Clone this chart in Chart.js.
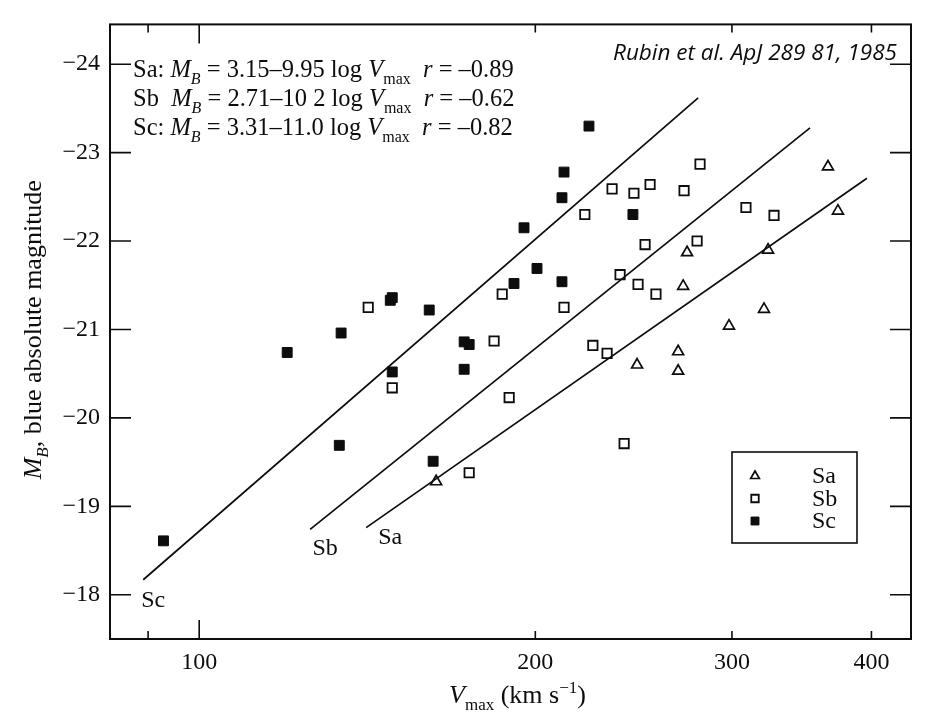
<!DOCTYPE html>
<html lang="en">
<head>
<meta charset="UTF-8" />
<title>Rubin et al. 1985 - M_B vs V_max</title>
<script src="https://cdn.jsdelivr.net/npm/chart.js"></script>
<style>
  html, body { margin: 0; padding: 0; background: #fff; }
</style>
</head>
<body>
<canvas id="tfChart" width="928" height="716"></canvas>
<script>
// values (Rubin et al. ApJ 289, 81)
const saVmax = [163.0, 246.7, 268.5, 268.5, 271.3, 273.5, 298.2, 320.5, 323.2, 365.7, 373.3];
const saMag  = [-19.28, -20.60, -20.75, -20.53, -21.49, -21.87, -21.04, -21.23, -21.90, -22.84, -22.34];

const sbVmax = [141.7, 148.9, 174.5, 183.7, 186.8, 189.5, 212.2, 221.5, 234.3, 225.2, 231.9, 238.2,
                240.2, 245.1, 247.2, 250.8, 253.4, 256.5, 271.8, 279.2, 280.9, 308.8, 327.2];
const sbMag  = [-21.25, -20.34, -19.38, -20.87, -21.40, -20.23, -21.25, -22.30, -22.59, -20.82, -20.73, -21.62,
                -19.71, -22.54, -21.51, -21.96, -22.64, -21.40, -22.57, -22.00, -22.87, -22.38, -22.29];

const scVmax = [92.9, 119.9, 134.0, 133.5, 148.3, 148.9, 148.9, 160.7, 162.0, 172.7, 174.5, 172.7,
                191.4, 195.4, 200.7, 211.3, 211.3, 212.2, 223.4, 244.6];
const scMag  = [-18.61, -20.74, -20.96, -19.69, -21.33, -21.36, -20.52, -21.22, -19.51, -20.86, -20.83, -20.55,
                -21.52, -22.15, -21.69, -21.54, -22.49, -22.78, -23.30, -22.30];

// fitted lines, end points as drawn
const saFitVmax = [141.1, 396.3];
const saFitMag  = [-18.76, -22.71];
const sbFitVmax = [125.7, 352.4];
const sbFitMag  = [-18.74, -23.28];
const scFitVmax = [89.1, 279.8];
const scFitMag  = [-18.17, -23.62];

const xTickValues = [100, 200, 300, 400];
const xMinorTickValues = [90];
const yTickValues = [-24, -23, -22, -21, -20, -19, -18];

const fitLines = [
  ['Sa: ', 'n'], ['M', 'i'], ['B', 'subi'], [' = 3.15\u20139.95 log ', 'n'], ['V', 'i'], ['max', 'sub'], ['  ', 'n'], ['r', 'i'], [' = \u20130.89', 'n']
];
const fitLines2 = [
  ['Sb  ', 'n'], ['M', 'i'], ['B', 'subi'], [' = 2.71\u201310 2 log ', 'n'], ['V', 'i'], ['max', 'sub'], ['  ', 'n'], ['r', 'i'], [' = \u20130.62', 'n']
];
const fitLines3 = [
  ['Sc: ', 'n'], ['M', 'i'], ['B', 'subi'], [' = 3.31\u201311.0 log ', 'n'], ['V', 'i'], ['max', 'sub'], ['  ', 'n'], ['r', 'i'], [' = \u20130.82', 'n']
];

const ink = '#0d0d0d';
const serif = '"Liberation Serif", "Times New Roman", serif';

function pts(xs, ys) {
  return xs.map((v, i) => ({ x: v, y: ys[i] }));
}

function fontFor(kind, size) {
  const small = Math.round(size * 0.66);
  if (kind === 'i') return 'italic ' + size + 'px ' + serif;
  if (kind === 'subi') return 'italic ' + small + 'px ' + serif;
  if (kind === 'sub' || kind === 'sup') return small + 'px ' + serif;
  return size + 'px ' + serif;
}

function drawRich(ctx, parts, x, y, size, align) {
  let w = 0;
  parts.forEach(p => { ctx.font = fontFor(p[1], size); w += ctx.measureText(p[0]).width; });
  let cx = align === 'center' ? x - w / 2 : x;
  ctx.textAlign = 'left';
  ctx.textBaseline = 'alphabetic';
  parts.forEach(p => {
    ctx.font = fontFor(p[1], size);
    let dy = 0;
    if (p[1] === 'sub' || p[1] === 'subi') dy = size * 0.28;
    if (p[1] === 'sup') dy = -size * 0.4;
    ctx.fillText(p[0], cx, y + dy);
    cx += ctx.measureText(p[0]).width;
  });
}

const decorations = {
  id: 'decorations',
  afterDraw(chart) {
    const { ctx, chartArea: a, scales: { x, y } } = chart;
    ctx.save();
    ctx.strokeStyle = ink;
    ctx.fillStyle = ink;

    // frame
    ctx.lineWidth = 2;
    ctx.strokeRect(a.left, a.top, a.right - a.left, a.bottom - a.top);

    // ticks pointing inward, on all four sides
    ctx.lineWidth = 1.6;
    ctx.beginPath();
    xTickValues.concat(xMinorTickValues).forEach(v => {
      const px = x.getPixelForValue(v);
      const len = v === 100 ? 19 : 8;
      ctx.moveTo(px, a.bottom); ctx.lineTo(px, a.bottom - len);
      ctx.moveTo(px, a.top); ctx.lineTo(px, a.top + len);
    });
    yTickValues.forEach(v => {
      const py = y.getPixelForValue(v);
      ctx.moveTo(a.left, py); ctx.lineTo(a.left + 21, py);
      ctx.moveTo(a.right, py); ctx.lineTo(a.right - 21, py);
    });
    ctx.stroke();

    // equations, top left
    drawRich(ctx, fitLines, a.left + 23, 77, 24.5, 'left');
    drawRich(ctx, fitLines2, a.left + 23, 106, 24.5, 'left');
    drawRich(ctx, fitLines3, a.left + 23, 135, 24.5, 'left');

    // source note
    ctx.font = 'italic 22.5px "Open Sans", Lato, sans-serif';
    ctx.textAlign = 'right';
    ctx.textBaseline = 'alphabetic';
    ctx.fillText('Rubin et al. ApJ 289 81, 1985', a.right - 14, 60);

    // names at the low end of each fitted line
    const offsets = { Sa: [24, 16], Sb: [15, 26], Sc: [10, 27] };
    chart.data.datasets.forEach((ds, i) => {
      if (!ds.fitOf) return;
      const p0 = chart.getDatasetMeta(i).data[0];
      const off = offsets[ds.fitOf];
      ctx.font = '24px ' + serif;
      ctx.textAlign = 'center';
      ctx.fillText(ds.fitOf, p0.x + off[0], p0.y + off[1]);
    });

    // legend box
    const box = { left: a.right - 179, top: a.bottom - 187, w: 125, h: 91 };
    ctx.lineWidth = 1.6;
    ctx.strokeRect(box.left, box.top, box.w, box.h);
    const marks = chart.data.datasets.filter(ds => !ds.fitOf);
    marks.forEach((ds, k) => {
      const cy = box.top + 24 + k * 22.5;
      ctx.save();
      ctx.strokeStyle = ds.borderColor;
      ctx.fillStyle = ds.backgroundColor;
      ctx.lineWidth = ds.borderWidth;
      Chart.helpers.drawPoint(ctx, {
        pointStyle: ds.pointStyle,
        radius: ds.pointRadius * 0.8,
        borderWidth: ds.borderWidth,
        rotation: 0
      }, box.left + 23, cy);
      ctx.restore();
      ctx.font = '24px ' + serif;
      ctx.textAlign = 'left';
      ctx.textBaseline = 'middle';
      ctx.fillStyle = ink;
      ctx.fillText(ds.label, box.left + 80, cy + 1);
    });

    // axis titles
    ctx.textBaseline = 'alphabetic';
    drawRich(ctx, [['V', 'i'], ['max', 'sub'], [' (km s', 'n'], ['\u22121', 'sup'], [')', 'n']],
      (a.left + a.right) / 2 + 7, 703, 26, 'center');
    ctx.save();
    ctx.translate(41, (a.top + a.bottom) / 2 - 2);
    ctx.rotate(-Math.PI / 2);
    drawRich(ctx, [['M', 'i'], ['B', 'subi'], [', blue absolute magnitude', 'n']], 0, 0, 26, 'center');
    ctx.restore();

    ctx.restore();
  }
};

const lineStyle = {
  showLine: true,
  borderColor: ink,
  borderWidth: 1.7,
  pointRadius: 0,
  fill: false
};

new Chart(document.getElementById('tfChart'), {
  type: 'scatter',
  data: {
    datasets: [
      { label: 'Sa', data: pts(saVmax, saMag), pointStyle: 'triangle', pointRadius: 6.3,
        backgroundColor: 'rgba(255,255,255,0)', borderColor: ink, borderWidth: 1.7 },
      { label: 'Sb', data: pts(sbVmax, sbMag), pointStyle: 'rect', pointRadius: 6.6,
        backgroundColor: 'rgba(255,255,255,0)', borderColor: ink, borderWidth: 1.8 },
      { label: 'Sc', data: pts(scVmax, scMag), pointStyle: 'rect', pointRadius: 7,
        backgroundColor: ink, borderColor: ink, borderWidth: 1 },
      Object.assign({ label: 'Sa fit', fitOf: 'Sa', data: pts(saFitVmax, saFitMag) }, lineStyle),
      Object.assign({ label: 'Sb fit', fitOf: 'Sb', data: pts(sbFitVmax, sbFitMag) }, lineStyle),
      Object.assign({ label: 'Sc fit', fitOf: 'Sc', data: pts(scFitVmax, scFitMag) }, lineStyle)
    ]
  },
  options: {
    responsive: false,
    animation: false,
    devicePixelRatio: 1,
    layout: { padding: { top: 10, right: 17, left: 0, bottom: 0 } },
    plugins: {
      legend: { display: false },
      tooltip: { enabled: false }
    },
    scales: {
      x: {
        type: 'logarithmic',
        min: 83.2,
        max: 434,
        grid: { display: false, drawTicks: false },
        border: { display: false },
        afterBuildTicks: s => {
          s.ticks = xMinorTickValues.concat(xTickValues).map(v => ({ value: v }));
        },
        afterFit: s => { s.height = 77; },
        ticks: {
          autoSkip: false,
          maxRotation: 0,
          padding: 9,
          color: ink,
          font: { family: serif, size: 24 },
          callback: v => (xTickValues.includes(v) ? String(v) : '')
        }
      },
      y: {
        type: 'linear',
        reverse: true,
        min: -24.45,
        max: -17.5,
        grid: { display: false, drawTicks: false },
        border: { display: false },
        afterBuildTicks: s => {
          s.ticks = yTickValues.map(v => ({ value: v }));
        },
        afterFit: s => { s.width = 110; },
        ticks: {
          padding: 10,
          color: ink,
          font: { family: serif, size: 24 },
          callback: v => '\u2212' + Math.abs(v)
        }
      }
    }
  },
  plugins: [decorations]
});
</script>
</body>
</html>
